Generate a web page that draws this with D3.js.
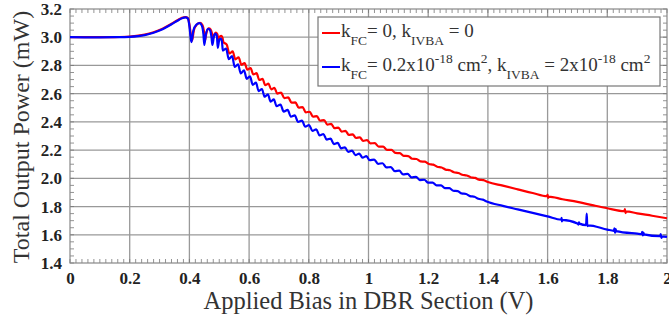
<!DOCTYPE html>
<html>
<head>
<meta charset="utf-8">
<script src="https://cdn.jsdelivr.net/npm/d3@7/dist/d3.min.js"></script>
<style>
  body { margin: 0; background: #fff; }
  svg { display: block; font-family: "Liberation Serif", "Times New Roman", serif; }
</style>
</head>
<body>
<svg id="chart" width="669" height="325"></svg>
<script>
// tick values
const xTicks = [0, 0.2, 0.4, 0.6, 0.8, 1, 1.2, 1.4, 1.6, 1.8, 2];
const yTicks = [1.4, 1.6, 1.8, 2.0, 2.2, 2.4, 2.6, 2.8, 3.0, 3.2];

// [bias (V), power (mW)] for k_FC = 0, k_IVBA = 0
const redCurve = [
  [0, 3.0], [0.05, 3.0], [0.1, 3.0], [0.15, 3.001], [0.2, 3.005], [0.25, 3.018],
  [0.28, 3.035], [0.31, 3.06], [0.34, 3.095], [0.36, 3.12], [0.375, 3.137],
  [0.387, 3.143], [0.395, 3.135], [0.4, 3.09], [0.405, 3.02], [0.409, 2.975],
  [0.415, 3.05], [0.425, 3.09], [0.436, 3.102], [0.444, 3.085], [0.449, 3.04],
  [0.452, 2.975], [0.457, 3.03], [0.465, 3.062], [0.471, 3.055], [0.476, 3.025],
  [0.479, 2.99], [0.484, 3.02], [0.489, 3.033], [0.494, 3.02], [0.497, 2.985],
  [0.502, 3.005], [0.507, 3.01], [0.511, 2.995], [0.514, 2.965],
  [0.525, 2.948], [0.534, 2.885], [0.545, 2.899], [0.554, 2.843], [0.565, 2.858],
  [0.574, 2.804], [0.585, 2.817], [0.594, 2.77], [0.605, 2.781], [0.614, 2.736],
  [0.625, 2.745], [0.634, 2.697], [0.645, 2.705], [0.654, 2.661], [0.665, 2.671],
  [0.674, 2.631], [0.685, 2.641], [0.694, 2.601], [0.707, 2.608], [0.718, 2.569],
  [0.731, 2.574], [0.742, 2.536], [0.755, 2.538], [0.766, 2.501], [0.779, 2.504],
  [0.79, 2.468], [0.803, 2.472], [0.814, 2.437], [0.827, 2.441], [0.838, 2.408],
  [0.851, 2.413], [0.862, 2.381], [0.875, 2.386], [0.886, 2.356], [0.899, 2.36],
  [0.91, 2.331], [0.923, 2.336], [0.934, 2.308], [0.947, 2.312], [0.958, 2.286],
  [0.971, 2.29], [0.982, 2.266], [0.995, 2.271], [1.006, 2.248], [1.021, 2.249],
  [1.034, 2.225], [1.049, 2.225], [1.062, 2.202], [1.077, 2.202], [1.09, 2.18],
  [1.105, 2.178], [1.118, 2.159], [1.133, 2.158], [1.146, 2.139], [1.161, 2.137],
  [1.174, 2.12], [1.189, 2.118], [1.202, 2.102], [1.217, 2.097], [1.23, 2.082],
  [1.245, 2.077], [1.258, 2.062], [1.273, 2.057], [1.286, 2.043], [1.301, 2.038],
  [1.314, 2.025], [1.329, 2.02], [1.342, 2.008], [1.357, 2.003], [1.37, 1.991],
  [1.385, 1.987], [1.4, 1.974], [1.45, 1.948], [1.5, 1.922], [1.55, 1.896],
  [1.598, 1.873], [1.6, 1.884], [1.602, 1.862], [1.604, 1.871], [1.65, 1.852],
  [1.7, 1.833], [1.75, 1.81], [1.8, 1.788], [1.857, 1.767], [1.859, 1.782],
  [1.861, 1.754], [1.863, 1.766], [1.9, 1.752], [1.95, 1.735], [2.0, 1.717]
];

// [bias (V), power (mW)] for k_FC = 0.2e-18 cm2, k_IVBA = 2e-18 cm2
const blueCurve = [
  [0, 3.0], [0.05, 2.999], [0.1, 2.999], [0.15, 3.0], [0.2, 3.003], [0.25, 3.015],
  [0.28, 3.032], [0.31, 3.057], [0.34, 3.092], [0.36, 3.117], [0.375, 3.134],
  [0.387, 3.14], [0.395, 3.132], [0.4, 3.08], [0.404, 3.0], [0.407, 2.965],
  [0.413, 3.045], [0.423, 3.088], [0.434, 3.1], [0.442, 3.08], [0.447, 3.02],
  [0.45, 2.945], [0.455, 3.02], [0.463, 3.06], [0.469, 3.05], [0.474, 3.0],
  [0.477, 2.945], [0.482, 3.005], [0.487, 3.025], [0.492, 3.01], [0.495, 2.925],
  [0.5, 2.98], [0.505, 2.99], [0.509, 2.97], [0.512, 2.905],
  [0.523, 2.92], [0.532, 2.844], [0.543, 2.866], [0.552, 2.789], [0.563, 2.808],
  [0.572, 2.743], [0.583, 2.766], [0.592, 2.705], [0.603, 2.723], [0.612, 2.663],
  [0.623, 2.678], [0.632, 2.618], [0.643, 2.633], [0.652, 2.578], [0.663, 2.595],
  [0.672, 2.544], [0.683, 2.56], [0.692, 2.511], [0.705, 2.523], [0.716, 2.473],
  [0.729, 2.485], [0.74, 2.437], [0.753, 2.446], [0.764, 2.4], [0.777, 2.409],
  [0.788, 2.366], [0.801, 2.378], [0.812, 2.336], [0.825, 2.347], [0.836, 2.305],
  [0.849, 2.314], [0.86, 2.274], [0.873, 2.282], [0.884, 2.243], [0.897, 2.251],
  [0.908, 2.213], [0.921, 2.22], [0.932, 2.187], [0.945, 2.196], [0.956, 2.165],
  [0.969, 2.175], [0.98, 2.147], [0.993, 2.157], [1.004, 2.128], [1.019, 2.133],
  [1.032, 2.103], [1.047, 2.107], [1.06, 2.077], [1.075, 2.08], [1.088, 2.051],
  [1.103, 2.054], [1.116, 2.028], [1.131, 2.032], [1.144, 2.007], [1.159, 2.011],
  [1.172, 1.988], [1.187, 1.99], [1.2, 1.969], [1.215, 1.97], [1.228, 1.95],
  [1.243, 1.95], [1.256, 1.931], [1.271, 1.93], [1.284, 1.912], [1.299, 1.909],
  [1.312, 1.893], [1.327, 1.889], [1.34, 1.874], [1.355, 1.869], [1.368, 1.855],
  [1.383, 1.849], [1.396, 1.836], [1.45, 1.805], [1.5, 1.78], [1.55, 1.755],
  [1.6, 1.73], [1.646, 1.707], [1.647, 1.72], [1.648, 1.695], [1.649, 1.706],
  [1.7, 1.68], [1.703, 1.672], [1.705, 1.688], [1.707, 1.679], [1.729, 1.669],
  [1.731, 1.75], [1.733, 1.662], [1.736, 1.667], [1.8, 1.637], [1.822, 1.628],
  [1.824, 1.645], [1.826, 1.614], [1.828, 1.64], [1.83, 1.626], [1.9, 1.608],
  [1.915, 1.605], [1.917, 1.62], [1.919, 1.595], [1.921, 1.615], [1.923, 1.603],
  [1.977, 1.59], [1.979, 1.605], [1.981, 1.578], [1.983, 1.589], [2.0, 1.585]
];

const seriesColors = ["#ff0000", "#0000ff"];

const svg = d3.select("#chart");
const margin = { top: 9, right: 2, bottom: 62, left: 70 };
const width = 669 - margin.left - margin.right;
const height = 325 - margin.top - margin.bottom;

const g = svg.append("g")
  .attr("transform", "translate(" + margin.left + "," + margin.top + ")");

const x = d3.scaleLinear().domain([0, 2]).range([0, width]);
const y = d3.scaleLinear().domain([1.4, 3.2]).range([height, 0]);

// grid
g.append("g")
  .selectAll("line")
  .data(xTicks.slice(1, -1))
  .join("line")
  .attr("x1", d => x(d)).attr("x2", d => x(d))
  .attr("y1", 0).attr("y2", height)
  .attr("stroke", "#999").attr("stroke-width", 1.3);
g.append("g")
  .selectAll("line")
  .data(yTicks.slice(1, -1))
  .join("line")
  .attr("x1", 0).attr("x2", width)
  .attr("y1", d => y(d)).attr("y2", d => y(d))
  .attr("stroke", "#999").attr("stroke-width", 1.3);

// minor ticks on all four sides, pointing inward
const xMinor = d3.range(0, 2.0001, 0.02);
const yMinor = d3.range(1.4, 3.2001, 0.05);
const tickLen = 4;
const minor = g.append("g").attr("stroke", "#777").attr("stroke-width", 0.8);
minor.selectAll(".xb").data(xMinor).join("line").attr("class", "xb")
  .attr("x1", d => x(d)).attr("x2", d => x(d))
  .attr("y1", height).attr("y2", height - tickLen);
minor.selectAll(".xt").data(xMinor).join("line").attr("class", "xt")
  .attr("x1", d => x(d)).attr("x2", d => x(d))
  .attr("y1", 0).attr("y2", tickLen);
minor.selectAll(".yl").data(yMinor).join("line").attr("class", "yl")
  .attr("x1", 0).attr("x2", tickLen)
  .attr("y1", d => y(d)).attr("y2", d => y(d));
minor.selectAll(".yr").data(yMinor).join("line").attr("class", "yr")
  .attr("x1", width).attr("x2", width - tickLen)
  .attr("y1", d => y(d)).attr("y2", d => y(d));

// frame
g.append("rect")
  .attr("width", width).attr("height", height)
  .attr("fill", "none").attr("stroke", "#888").attr("stroke-width", 1.2);

// axes labels (tick text only)
const xAxis = g.append("g")
  .attr("transform", "translate(0," + height + ")")
  .call(d3.axisBottom(x).tickValues(xTicks).tickSize(0).tickPadding(9)
    .tickFormat(d => d === 0 ? "0" : d3.format("")(d)));
const yAxis = g.append("g")
  .call(d3.axisLeft(y).tickValues(yTicks).tickSize(0).tickPadding(8)
    .tickFormat(d3.format(".1f")));
[xAxis, yAxis].forEach(a => {
  a.select(".domain").remove();
  a.selectAll("text")
    .style("font-family", "'Liberation Serif', 'Times New Roman', serif")
    .style("font-size", "17px")
    .style("font-weight", "bold")
    .attr("fill", "#222");
});

// curves
const line = d3.line()
  .x(d => x(d[0]))
  .y(d => y(d[1]))
  .curve(d3.curveMonotoneX);

[redCurve, blueCurve].forEach((data, i) => {
  g.append("path")
    .datum(data)
    .attr("fill", "none")
    .attr("stroke", seriesColors[i])
    .attr("stroke-width", 2.2)
    .attr("stroke-linejoin", "round")
    .attr("d", line);
});

// axis titles
svg.append("text")
  .attr("transform", "translate(29," + (margin.top + height / 2 + 1) + ") rotate(-90)")
  .attr("text-anchor", "middle")
  .style("font-size", "24px")
  .attr("fill", "#333")
  .text("Total Output Power (mW)");
svg.append("text")
  .attr("x", margin.left + width / 2)
  .attr("y", 309)
  .attr("text-anchor", "middle")
  .style("font-size", "24.5px")
  .attr("fill", "#333")
  .text("Applied Bias in DBR Section (V)");

// legend
const legend = svg.append("g").attr("transform", "translate(318,17)");
legend.append("rect")
  .attr("width", 342).attr("height", 69)
  .attr("fill", "#fff").attr("stroke", "#777").attr("stroke-width", 1.2);

const legendRows = [
  [["k", 0], ["FC", 1], ["= 0, k", 0], ["IVBA", 1], [" = 0", 0]],
  [["k", 0], ["FC", 1], ["= 0.2x10", 0], ["-18", 2], [" cm", 0], ["2", 2],
   [", k", 0], ["IVBA", 1], [" = 2x10", 0], ["-18", 2], [" cm", 0], ["2", 2]]
];
const rowY = [16, 50];
legendRows.forEach((parts, i) => {
  legend.append("line")
    .attr("x1", 4).attr("x2", 22)
    .attr("y1", rowY[i]).attr("y2", rowY[i])
    .attr("stroke", seriesColors[i]).attr("stroke-width", 2);
  const t = legend.append("text")
    .attr("x", 23).attr("y", rowY[i] + 4)
    .style("font-size", "19px")
    .attr("fill", "#333");
  let shift = 0;
  parts.forEach(([s, kind]) => {
    const target = kind === 1 ? 8 : kind === 2 ? -8 : 0;
    t.append("tspan")
      .attr("dy", target - shift)
      .style("font-size", kind === 0 ? "19px" : "13.5px")
      .text(s);
    shift = target;
  });
});
</script>
</body>
</html>
